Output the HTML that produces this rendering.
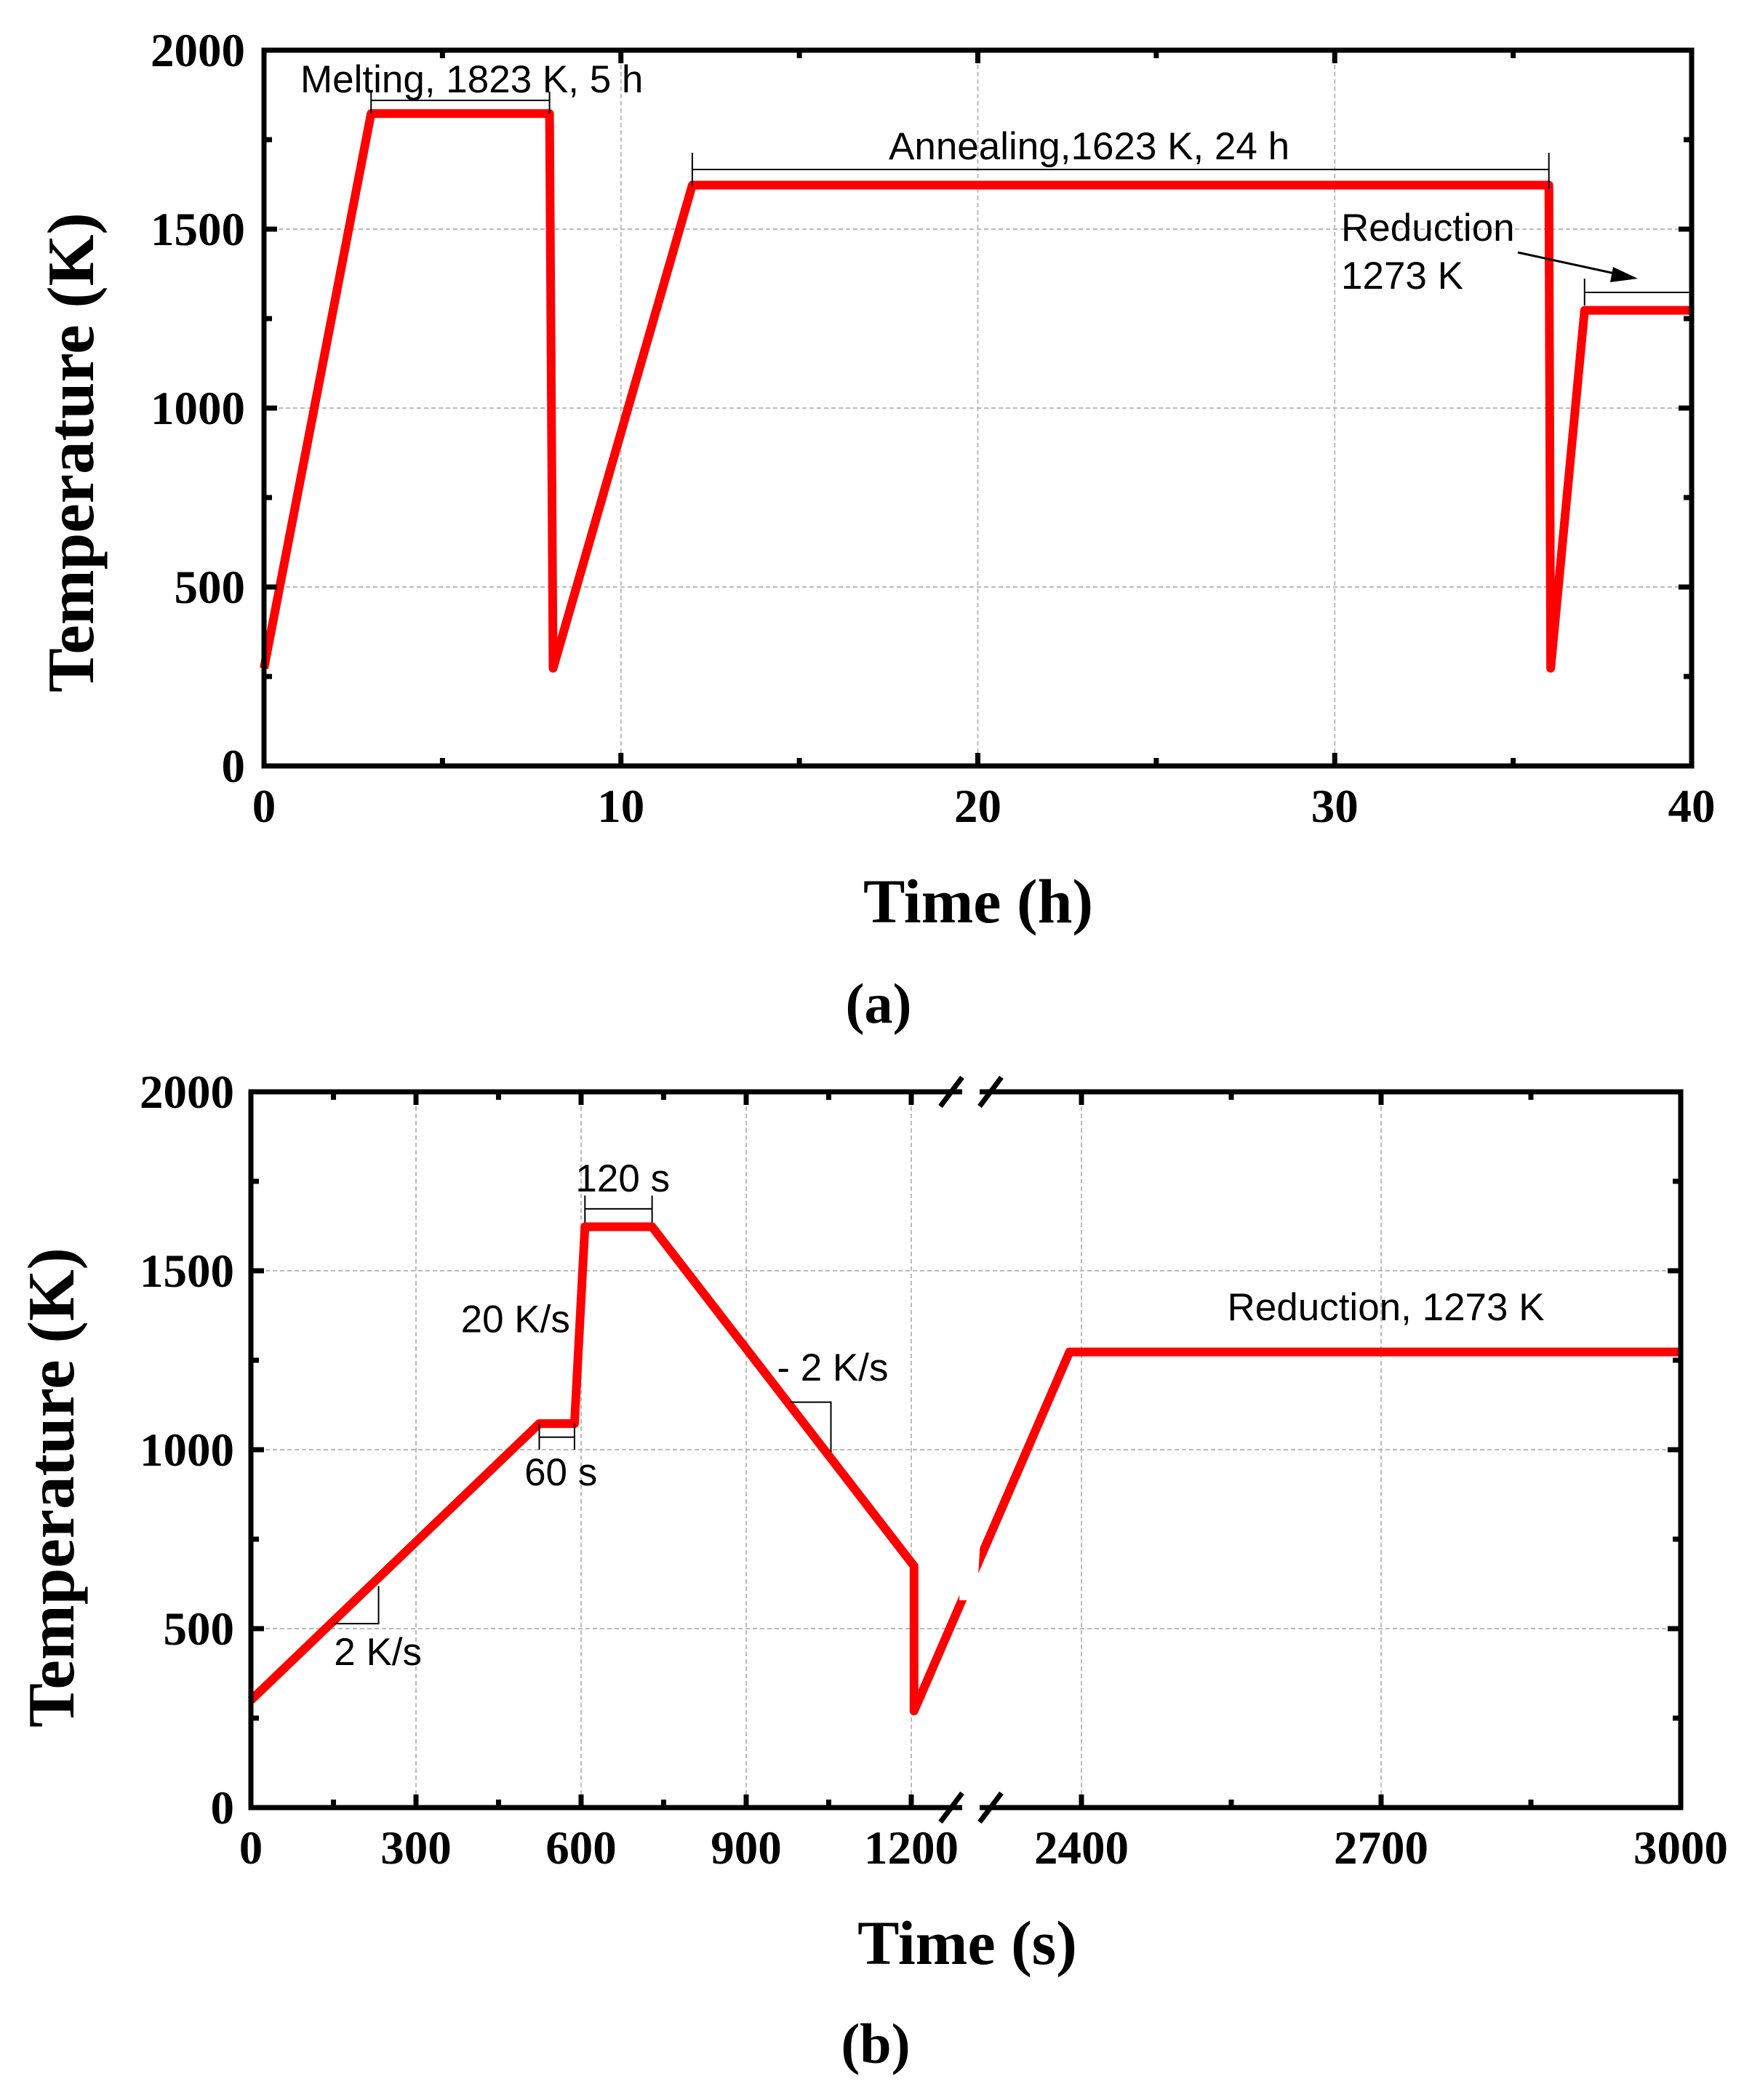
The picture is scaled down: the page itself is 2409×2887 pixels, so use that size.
<!DOCTYPE html>
<html><head><meta charset="utf-8"><style>
html,body{margin:0;padding:0;background:#fff;}
svg{display:block;}
text{font-family:"Liberation Serif",serif;}
.ann{font-family:"Liberation Sans",sans-serif;font-size:53px;fill:#000;}
.tick{font-family:"Liberation Serif",serif;font-weight:bold;font-size:65px;fill:#000;}
.title{font-family:"Liberation Serif",serif;font-weight:bold;font-size:91px;fill:#000;}
</style></head><body>
<svg id="fig" width="2409" height="2887" viewBox="0 0 2409 2887" xmlns="http://www.w3.org/2000/svg">
<rect width="2409" height="2887" fill="#fff"/>
<g id="pa"></g>
<g id="pb"></g>
</svg>
<script>
// ---- Chart (a) data ----
const aTimes = [0, 3, 8, 8.1, 12, 36, 36.05, 37, 40];
const aTemps = [273, 1823, 1823, 273, 1623, 1623, 273, 1273, 1273];
const aXTicks = [0, 10, 20, 30, 40];
const aYTicks = [0, 500, 1000, 1500, 2000];
// ---- Chart (b) data ----
const bTimes = [0, 524, 588, 607, 729, 1205, 1205, 2388, 3000];
const bTemps = [300, 1073, 1073, 1623, 1623, 675, 270, 1273, 1273];
const bXTicksLeft = [0, 300, 600, 900, 1200];
const bXTicksRight = [2400, 2700, 3000];
const bYTicks = [0, 500, 1000, 1500, 2000];

const NS = "http://www.w3.org/2000/svg";
function mk(parent, tag, attrs, txt){
  const e = document.createElementNS(NS, tag);
  for (const k in attrs) e.setAttribute(k, attrs[k]);
  if (txt !== undefined) e.textContent = txt;
  parent.appendChild(e);
  return e;
}

// ===== Chart A =====
const A = {L:363, R:2326, T:69, B:1053};
const ax = t => A.L + (t/40)*(A.R-A.L);
const ay = v => A.B - (v/2000)*(A.B-A.T);
const ga = document.getElementById('pa');

aXTicks.slice(1,-1).forEach(t=>{
  const g = mk(ga,'line',{x1:ax(t),x2:ax(t),y1:A.T,y2:A.B,stroke:'#bbb','stroke-width':2,'stroke-dasharray':'6,4'});
  
  
});
aYTicks.slice(1,-1).forEach(v=>{
  const g = mk(ga,'line',{x1:A.L,x2:A.R,y1:ay(v),y2:ay(v),stroke:'#bbb','stroke-width':2,'stroke-dasharray':'6,4'});
  
  
});
const pathA = mk(ga,'polyline',{points:aTimes.map((t,i)=>ax(t)+','+ay(aTemps[i])).join(' '),fill:'none',stroke:'#ff0000','stroke-width':12,'stroke-linejoin':'round'});


const fa = mk(ga,'rect',{x:A.L,y:A.T,width:A.R-A.L,height:A.B-A.T,fill:'none',stroke:'#000','stroke-width':7});


for (let t=0;t<=40;t+=5){
  const len = (t%10===0)?18:11;
  mk(ga,'line',{x1:ax(t),x2:ax(t),y1:A.B,y2:A.B-len,stroke:'#000','stroke-width':7});
  mk(ga,'line',{x1:ax(t),x2:ax(t),y1:A.T,y2:A.T+len,stroke:'#000','stroke-width':7});
}
for (let v=0;v<=2000;v+=250){
  const len = (v%500===0)?18:11;
  mk(ga,'line',{x1:A.L,x2:A.L+len,y1:ay(v),y2:ay(v),stroke:'#000','stroke-width':7});
  mk(ga,'line',{x1:A.R,x2:A.R-len,y1:ay(v),y2:ay(v),stroke:'#000','stroke-width':7});
}
aXTicks.forEach(t=>{
  const e = mk(ga,'text',{x:ax(t),y:1130,'text-anchor':'middle',class:'tick'},String(t));
  
  
});
aYTicks.forEach(v=>{
  const e = mk(ga,'text',{x:337,y:ay(v)+22,'text-anchor':'end',class:'tick'},String(v));
  
  
});
let e;
e = mk(ga,'text',{x:0,y:0,'text-anchor':'middle',class:'title',transform:'translate(128,622) rotate(-90)'},'Temperature (K)');


e = mk(ga,'text',{x:1345,y:1268,'text-anchor':'middle',class:'title',style:'font-size:86px'},'Time (h)');


e = mk(ga,'text',{x:1208,y:1406,'text-anchor':'middle',class:'title',style:'font-size:78px'},'(a)');


e = mk(ga,'text',{x:413,y:127,class:'ann'},'Melting, 1823 K, 5 h');


mk(ga,'path',{d:`M${ax(3)},126 V156 M${ax(3)},138 H${ax(8)} M${ax(8)},126 V156`,stroke:'#000','stroke-width':2,fill:'none'});
e = mk(ga,'text',{x:1222,y:219,class:'ann'},'Annealing,1623 K, 24 h');


mk(ga,'path',{d:`M${ax(12)},210 V256 M${ax(12)},233 H${ax(36)} M${ax(36)},210 V260`,stroke:'#000','stroke-width':2,fill:'none'});
e = mk(ga,'text',{x:1844,y:331,class:'ann'},'Reduction');


mk(ga,'text',{x:1844,y:397,class:'ann'},'1273 K');
mk(ga,'line',{x1:2087,y1:347,x2:2225,y2:377,stroke:'#000','stroke-width':3});
mk(ga,'polygon',{points:'2252,383 2218,367 2214,388',fill:'#000'});
mk(ga,'path',{d:`M${ax(37)},383 V420 M${ax(37)},402 H${A.R}`,stroke:'#000','stroke-width':2,fill:'none'});

// ===== Chart B =====
const B = {L:345, R:2311, T:1501, B:2485};
const bx = t => t<=1800 ? B.L + t*(227/300) : 1487 + (t-2400)*(412/300);
const by = v => B.B - (v/2000)*(B.B-B.T);
const gb = document.getElementById('pb');
const BRK = 1335;

bXTicksLeft.slice(1).concat(bXTicksRight.slice(0,-1)).forEach(t=>{
  const g = mk(gb,'line',{x1:bx(t),x2:bx(t),y1:B.T,y2:B.B,stroke:'#bbb','stroke-width':2,'stroke-dasharray':'6,4'});
  
  
});
bYTicks.slice(1,-1).forEach(v=>{
  const g = mk(gb,'line',{x1:B.L,x2:B.R,y1:by(v),y2:by(v),stroke:'#bbb','stroke-width':2,'stroke-dasharray':'6,4'});
  
  
});
const pathB = mk(gb,'polyline',{points:bTimes.map((t,i)=>bx(t)+','+by(bTemps[i])).join(' '),fill:'none',stroke:'#ff0000','stroke-width':12,'stroke-linejoin':'round'});


mk(gb,'polygon',{points:`${BRK-16},2200 ${BRK+8},2200 ${BRK+20},2000 ${BRK-4},2000`,fill:'#fff'});
const fb = mk(gb,'rect',{x:B.L,y:B.T,width:B.R-B.L,height:B.B-B.T,fill:'none',stroke:'#000','stroke-width':7});


const minorB = [0,150,300,450,600,750,900,1050,1200,2400,2550,2700,2850,3000];
minorB.forEach(t=>{
  const len = (t%300===0)?18:11;
  mk(gb,'line',{x1:bx(t),x2:bx(t),y1:B.B,y2:B.B-len,stroke:'#000','stroke-width':7});
  mk(gb,'line',{x1:bx(t),x2:bx(t),y1:B.T,y2:B.T+len,stroke:'#000','stroke-width':7});
});
for (let v=0;v<=2000;v+=250){
  const len = (v%500===0)?18:11;
  mk(gb,'line',{x1:B.L,x2:B.L+len,y1:by(v),y2:by(v),stroke:'#000','stroke-width':7});
  mk(gb,'line',{x1:B.R,x2:B.R-len,y1:by(v),y2:by(v),stroke:'#000','stroke-width':7});
}
[B.T,B.B].forEach(y=>{
  mk(gb,'rect',{x:BRK-12,y:y-8,width:24,height:16,fill:'#fff'});
  const br = mk(gb,'path',{d:`M${BRK-42},${y+20} L${BRK-12},${y-20} M${BRK+12},${y+20} L${BRK+42},${y-20}`,stroke:'#000','stroke-width':7,fill:'none'});
  
  
});
bXTicksLeft.concat(bXTicksRight).forEach(t=>{
  const e2 = mk(gb,'text',{x:bx(t),y:2562,'text-anchor':'middle',class:'tick'},String(t));
  
  
});
bYTicks.forEach(v=>{
  const e2 = mk(gb,'text',{x:322,y:by(v)+22,'text-anchor':'end',class:'tick'},String(v));
  
  
});
e = mk(gb,'text',{x:0,y:0,'text-anchor':'middle',class:'title',transform:'translate(101,2045) rotate(-90)'},'Temperature (K)');


e = mk(gb,'text',{x:1330,y:2700,'text-anchor':'middle',class:'title',style:'font-size:86px'},'Time (s)');


e = mk(gb,'text',{x:1204,y:2836,'text-anchor':'middle',class:'title',style:'font-size:78px'},'(b)');


e = mk(gb,'text',{x:bx(580),y:by(1328),'text-anchor':'end',class:'ann'},'20 K/s');


e = mk(gb,'text',{x:bx(497),y:by(900),class:'ann'},'60 s');


mk(gb,'path',{d:`M${bx(524)},${by(1073)} V${by(1000)} M${bx(524)},${by(1035)} H${bx(588)} M${bx(588)},${by(1073)} V${by(1000)}`,stroke:'#000','stroke-width':2,fill:'none'});
e = mk(gb,'text',{x:bx(590),y:by(1722),class:'ann'},'120 s');


mk(gb,'path',{d:`M${bx(607)},${by(1710)} V${by(1635)} M${bx(607)},${by(1673)} H${bx(729)} M${bx(729)},${by(1710)} V${by(1635)}`,stroke:'#000','stroke-width':2,fill:'none'});
e = mk(gb,'text',{x:bx(956),y:by(1193),class:'ann'},'- 2 K/s');


mk(gb,'path',{d:`M${bx(980)},${by(1133)} H${bx(1054)} V${by(994)}`,stroke:'#000','stroke-width':2,fill:'none'});
e = mk(gb,'text',{x:bx(151),y:by(398),class:'ann'},'2 K/s');


mk(gb,'path',{d:`M${bx(151)},${by(514)} H${bx(232)} V${by(619)}`,stroke:'#000','stroke-width':2,fill:'none'});
e = mk(gb,'text',{x:bx(2546),y:by(1362),class:'ann'},'Reduction, 1273 K');


</script>
</body></html>
